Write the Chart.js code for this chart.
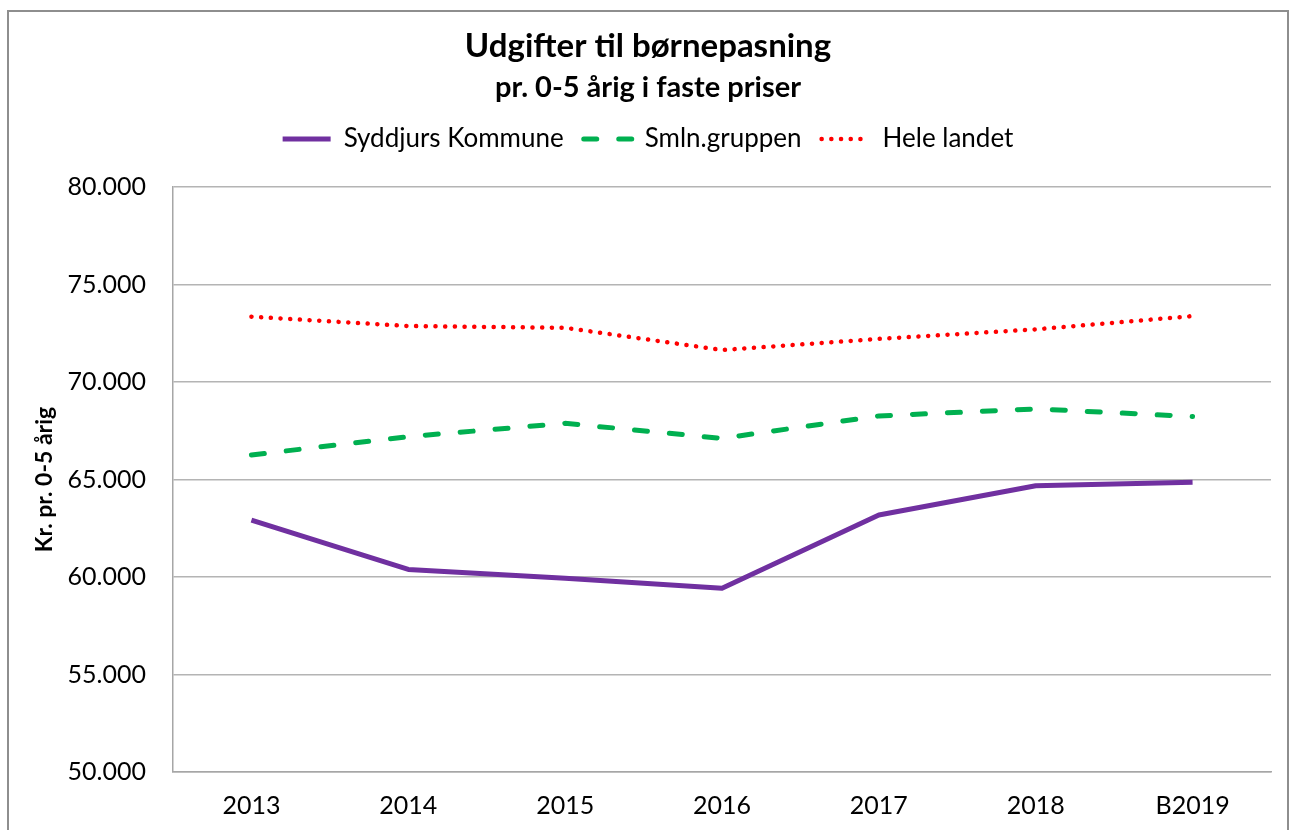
<!DOCTYPE html>
<html lang="da">
<head>
<meta charset="utf-8">
<title>Udgifter til børnepasning</title>
<script src="https://cdn.jsdelivr.net/npm/chart.js@4/dist/chart.umd.min.js"></script>
<style>
    body { margin: 0; background: #fff; }
    #ramme {
        position: absolute; left: 7px; top: 10px;
        width: 1278px; height: 840px;
        border: 2px solid #8e8e8e;
    }
    #wrap { position: absolute; left: 0; top: 0; width: 1290px; height: 830px; }
</style>
</head>
<body>
<div id="ramme"></div>
<div id="wrap"><canvas id="graf" width="1290" height="830"></canvas></div>
<script>
const aar = ['2013', '2014', '2015', '2016', '2017', '2018', 'B2019'];
const syddjurs = [62920, 60390, 59930, 59420, 63180, 64680, 64860];
const smlnGruppen = [66260, 67200, 67880, 67110, 68260, 68620, 68230];
const heleLandet = [73350, 72870, 72780, 71640, 72210, 72700, 73380];
const yTicks = [50000, 55000, 60000, 65000, 70000, 75000, 80000];

const fontNavn = 'Lato, "Open Sans", sans-serif';

function tusind(v) {
    return String(v).replace(/\B(?=(\d{3})+(?!\d))/g, '.');
}

// luft mellem forklaring og plotområde
const mellemrum = {
    id: 'mellemrum',
    start(chart) {
        Chart.layouts.addBox(chart, {
            position: 'top',
            weight: 1,
            fullSize: true,
            options: {},
            top: 0, left: 0, right: 0, bottom: 0, width: 0, height: 0,
            update(maxWidth) {
                this.width = maxWidth;
                this.height = 25;
            },
            isHorizontal() { return true; },
            draw() {}
        });
    }
};

const ctx = document.getElementById('graf').getContext('2d');

new Chart(ctx, {
    type: 'line',
    data: {
        labels: aar,
        datasets: [{
            label: 'Syddjurs Kommune',
            data: syddjurs,
            borderColor: '#7030a0',
            borderWidth: 5,
            borderJoinStyle: 'round'
        }, {
            label: 'Smln.gruppen',
            data: smlnGruppen,
            borderColor: '#00b050',
            borderWidth: 5,
            borderDash: [13, 22],
            borderCapStyle: 'round'
        }, {
            label: 'Hele landet',
            data: heleLandet,
            borderColor: '#ff0000',
            borderWidth: 4.5,
            borderDash: [0.1, 9.6],
            borderCapStyle: 'round'
        }]
    },
    plugins: [mellemrum],
    options: {
        responsive: false,
        animation: false,
        elements: { point: { radius: 0 }, line: { tension: 0 } },
        layout: { padding: { left: 25, right: 19, top: 0, bottom: 0 } },
        plugins: {
            title: {
                display: true,
                text: 'Udgifter til børnepasning',
                color: '#000',
                font: { family: fontNavn, size: 33, weight: 'bold' },
                padding: { top: 27, bottom: 4 }
            },
            subtitle: {
                display: true,
                text: 'pr. 0-5 årig i faste priser',
                color: '#000',
                font: { family: fontNavn, size: 29, weight: 'bold' },
                padding: { top: 0, bottom: 0.6 }
            },
            legend: {
                position: 'top',
                labels: {
                    color: '#000',
                    font: { family: fontNavn, size: 26 },
                    usePointStyle: true,
                    pointStyleWidth: 48,
                    padding: 20,
                    generateLabels: function (chart) {
                        return chart.data.datasets.map((ds, i) => ({
                            text: ds.label,
                            pointStyle: 'line',
                            strokeStyle: ds.borderColor,
                            fillStyle: ds.borderColor,
                            lineWidth: ds.borderWidth,
                            lineDash: ds.borderDash || [],
                            lineCap: ds.borderCapStyle || 'butt',
                            fontColor: '#000',
                            datasetIndex: i,
                            hidden: false
                        }));
                    }
                }
            },
            tooltip: { enabled: false }
        },
        scales: {
            x: {
                offset: true,
                grid: { display: false, drawTicks: false },
                border: { color: '#a6a6a6', width: 1.5 },
                ticks: {
                    color: '#000',
                    font: { family: fontNavn, size: 25 },
                    padding: 19,
                    maxRotation: 0
                },
                afterFit: function (scale) { scale.height = 58; }
            },
            y: {
                min: 50000,
                max: 80000,
                afterBuildTicks: function (scale) {
                    scale.ticks = yTicks.map(v => ({ value: v }));
                },
                grid: { color: '#b4b4b4', lineWidth: 1.5, drawTicks: false },
                border: { color: '#a6a6a6', width: 1.5 },
                ticks: {
                    color: '#000',
                    font: { family: fontNavn, size: 25 },
                    padding: 27,
                    callback: v => tusind(v)
                },
                title: {
                    display: true,
                    text: 'Kr. pr. 0-5 årig',
                    color: '#000',
                    font: { family: fontNavn, size: 23, weight: 'bold' },
                    padding: { top: 6, bottom: 0 }
                },
                afterFit: function (scale) { scale.width = 148; }
            }
        }
    }
});
</script>
</body>
</html>
